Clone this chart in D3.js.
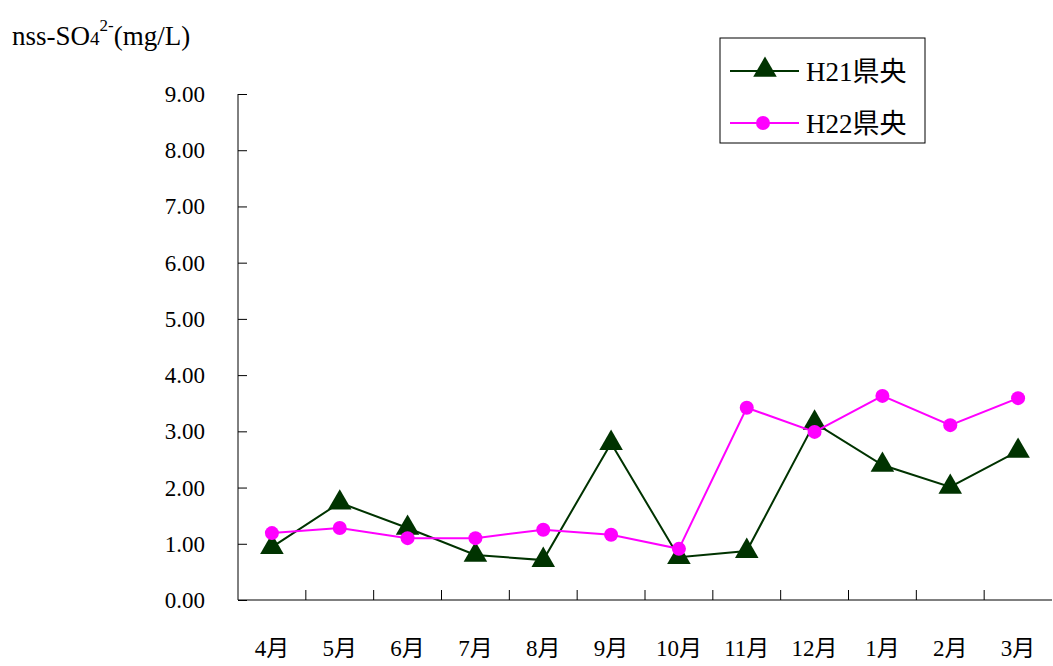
<!DOCTYPE html>
<html>
<head>
<meta charset="utf-8">
<script src="https://cdn.jsdelivr.net/npm/d3@7"></script>
<style>
  body { margin: 0; background: #fff; }
</style>
</head>
<body>
<div id="chart"></div>
<script>
var months = ["4月", "5月", "6月", "7月", "8月", "9月", "10月", "11月", "12月", "1月", "2月", "3月"];
var h21 = [0.94, 1.73, 1.28, 0.80, 0.71, 2.79, 0.76, 0.87, 3.15, 2.40, 2.01, 2.65];
var h22 = [1.19, 1.28, 1.10, 1.10, 1.25, 1.16, 0.91, 3.42, 2.99, 3.63, 3.11, 3.59];
var yTicks = [0, 1, 2, 3, 4, 5, 6, 7, 8, 9];
var seriesNames = ["H21県央", "H22県央"];

var w = 1053, h = 666;
var svg = d3.select("#chart").append("svg").attr("width", w).attr("height", h)
  .attr("font-family", "'Liberation Serif', 'Times New Roman', 'DejaVu Serif', 'Noto Sans CJK JP', serif");

var x = d3.scaleBand().domain(months).range([238, 1052]);
var y = d3.scaleLinear().domain([0, 9]).range([600, 94]);

// y axis, ticks pointing inward
var yAxis = svg.append("g").attr("transform", "translate(238,0)")
  .call(d3.axisRight(y).tickValues(yTicks).tickSize(9).tickFormat(""));
yAxis.select(".domain").attr("d", "M0,94V600");
yAxis.selectAll("line,path").attr("stroke", "#000");

svg.selectAll(".ylab").data(yTicks).enter().append("text")
  .attr("class", "ylab")
  .attr("x", 205).attr("y", function(d) { return y(d) + 8; })
  .attr("text-anchor", "end").attr("font-size", "23px")
  .text(function(d) { return d.toFixed(2); });

// x axis, ticks at category boundaries pointing up
svg.append("line").attr("x1", 238).attr("x2", 1052).attr("y1", 600).attr("y2", 600)
  .attr("stroke", "#000");
svg.selectAll(".xtick").data(months.slice(1)).enter().append("line")
  .attr("x1", function(d) { return x(d); }).attr("x2", function(d) { return x(d); })
  .attr("y1", 600).attr("y2", 590).attr("stroke", "#000");

svg.selectAll(".xlab").data(months).enter().append("text")
  .attr("class", "xlab")
  .attr("x", function(d) { return x(d) + x.bandwidth() / 2; })
  .attr("y", 656).attr("text-anchor", "middle").attr("font-size", "23px")
  .text(function(d) { return d; });

function cx(d, i) { return x(months[i]) + x.bandwidth() / 2; }

var line = d3.line().x(cx).y(function(d) { return y(d); });
var tri = d3.symbol().type(d3.symbolTriangle).size(240);

// H21 series
svg.append("path").datum(h21).attr("d", line)
  .attr("fill", "none").attr("stroke", "#003300").attr("stroke-width", 2);
svg.selectAll(".tri").data(h21).enter().append("path")
  .attr("class", "tri").attr("d", tri)
  .attr("transform", function(d, i) { return "translate(" + cx(d, i) + "," + y(d) + ")"; })
  .attr("fill", "#003300");

// H22 series
svg.append("path").datum(h22).attr("d", line)
  .attr("fill", "none").attr("stroke", "#ff00ff").attr("stroke-width", 2);
svg.selectAll(".dot").data(h22).enter().append("circle")
  .attr("cx", cx).attr("cy", function(d) { return y(d); })
  .attr("r", 7).attr("fill", "#ff00ff");

// title
var title = svg.append("text").attr("x", 12).attr("y", 45).attr("font-size", "27px");
title.append("tspan").text("nss-SO");
title.append("tspan").attr("font-size", "19px").text("4");
title.append("tspan").attr("font-size", "17px").attr("dy", -14).text("2-");
title.append("tspan").attr("dy", 14).text("(mg/L)");

// legend
svg.append("rect").attr("x", 720).attr("y", 38).attr("width", 205).attr("height", 105)
  .attr("fill", "#fff").attr("stroke", "#000");
svg.append("line").attr("x1", 730).attr("x2", 799).attr("y1", 71).attr("y2", 71)
  .attr("stroke", "#003300").attr("stroke-width", 2);
svg.append("path").attr("d", tri).attr("transform", "translate(765,70)").attr("fill", "#003300");
svg.append("line").attr("x1", 730).attr("x2", 799).attr("y1", 123).attr("y2", 123)
  .attr("stroke", "#ff00ff").attr("stroke-width", 2);
svg.append("circle").attr("cx", 763).attr("cy", 123).attr("r", 7).attr("fill", "#ff00ff");
svg.selectAll(".leg").data(seriesNames).enter().append("text")
  .attr("x", 806).attr("y", function(d, i) { return 81 + i * 52; })
  .attr("font-size", "27px").text(function(d) { return d; });
</script>
</body>
</html>
